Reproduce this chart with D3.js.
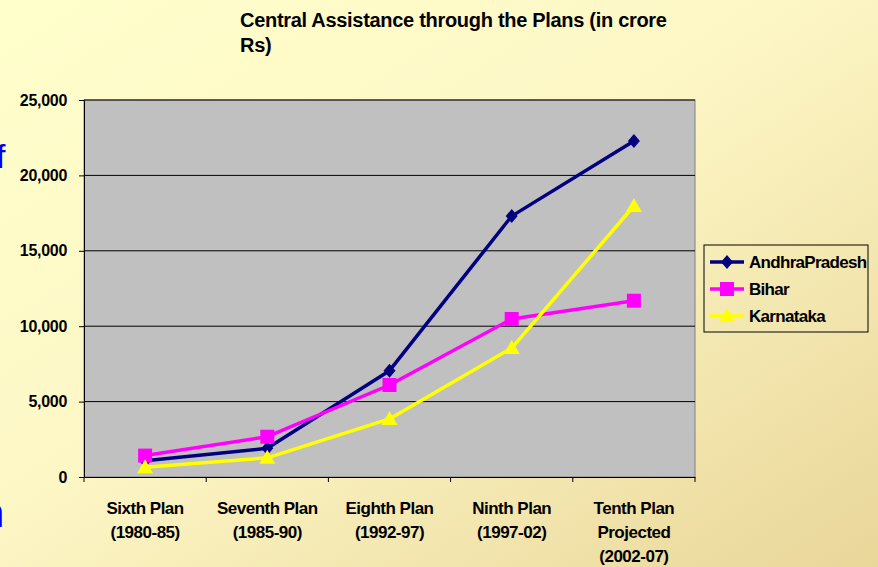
<!DOCTYPE html>
<html>
<head>
<meta charset="utf-8">
<script src="https://cdn.jsdelivr.net/npm/d3@7"></script>
<style>
  body { margin: 0; overflow: hidden; }
  text { font-family: "Liberation Sans", Arial, sans-serif; font-weight: bold; fill: #000; }
</style>
</head>
<body>
<svg id="chart" width="878" height="567"></svg>
<script>
// plan periods on the x axis (multi-line labels)
const plans = [
  ['Sixth Plan', '(1980-85)'],
  ['Seventh Plan', '(1985-90)'],
  ['Eighth Plan', '(1992-97)'],
  ['Ninth Plan', '(1997-02)'],
  ['Tenth Plan', 'Projected', '(2002-07)']
];
const stateNames = ['AndhraPradesh', 'Bihar', 'Karnataka'];
const andhraValues = [1080, 1900, 7050, 17300, 22280];
const biharValues = [1420, 2670, 6100, 10480, 11690];
const karnatakaValues = [650, 1270, 3850, 8550, 17970];
const yTicks = [0, 5000, 10000, 15000, 20000, 25000];

const svg = d3.select('#chart');
const width = +svg.attr('width');
const height = +svg.attr('height');

// page background, light yellow fading to beige
const defs = svg.append('defs');
const grad = defs.append('linearGradient')
  .attr('id', 'bg')
  .attr('x1', '0').attr('y1', '0').attr('x2', '1').attr('y2', '1');
grad.append('stop').attr('offset', '0%').attr('stop-color', '#ffffcc');
grad.append('stop').attr('offset', '45%').attr('stop-color', '#fdf7c6');
grad.append('stop').attr('offset', '100%').attr('stop-color', '#e9d699');
svg.append('rect').attr('width', width).attr('height', height).attr('fill', 'url(#bg)');

// leftovers of the slide text behind the chart
svg.append('text').attr('x', -4).attr('y', 168)
  .style('font-weight', 'normal')
  .style('font-size', '34px').style('fill', '#0000ee').text('f');
svg.append('text').attr('x', -18).attr('y', 527)
  .style('font-weight', 'normal')
  .style('font-size', '40px').style('fill', '#0000ee').text('n');

const margin = ({top: 100, right: 183, bottom: 90, left: 84});
const innerWidth = width - margin.left - margin.right;
const innerHeight = height - margin.top - margin.bottom;

const series = [
  {name: stateNames[0], values: andhraValues, color: '#000080', marker: 'diamond'},
  {name: stateNames[1], values: biharValues, color: '#ff00ff', marker: 'square'},
  {name: stateNames[2], values: karnatakaValues, color: '#ffff00', marker: 'triangle'}
];

const x = d3.scaleBand()
  .domain(d3.range(plans.length))
  .range([0, innerWidth]);

const y = d3.scaleLinear()
  .domain([0, 25000])
  .range([innerHeight, 0]);

const g = svg.append('g')
  .attr('transform', `translate(${margin.left},${margin.top})`);

g.append('rect')
  .attr('width', innerWidth)
  .attr('height', innerHeight)
  .attr('fill', '#c0c0c0')
  .attr('stroke', '#808080');

// gridlines
g.selectAll('.grid').data(yTicks.filter(d => d > 0))
  .enter().append('line')
  .attr('x1', 0).attr('x2', innerWidth)
  .attr('y1', d => y(d)).attr('y2', d => y(d))
  .attr('stroke', '#000').attr('stroke-width', 1);

const yAxis = d3.axisLeft(y)
  .tickValues(yTicks)
  .tickSize(5)
  .tickPadding(12)
  .tickFormat(d3.format(','));

const yAxisG = g.append('g').call(yAxis);
yAxisG.select('.domain').attr('stroke', '#000');
yAxisG.selectAll('text').style('font-size', '16px').style('letter-spacing', '-0.3px');

const xAxisG = g.append('g')
  .attr('transform', `translate(0,${innerHeight})`)
  .call(d3.axisBottom(x).tickSize(0).tickFormat(''));
xAxisG.select('.domain').attr('stroke', '#000');

// ticks between categories
xAxisG.selectAll('.sep').data(d3.range(plans.length + 1))
  .enter().append('line')
  .attr('x1', d => d * x.bandwidth()).attr('x2', d => d * x.bandwidth())
  .attr('y1', 0).attr('y2', 5)
  .attr('stroke', '#000');

const xLabels = xAxisG.selectAll('.xlabel').data(plans)
  .enter().append('text')
  .attr('text-anchor', 'middle')
  .attr('transform', (d, i) => `translate(${x(i) + x.bandwidth() / 2},0)`)
  .style('font-size', '17px')
  .style('letter-spacing', '-0.5px');

xLabels.selectAll('tspan').data(d => d)
  .enter().append('tspan')
  .attr('x', 0)
  .attr('y', (d, i) => 37 + i * 24)
  .text(d => d);

const line = d3.line()
  .x((d, i) => x(i) + x.bandwidth() / 2)
  .y(d => y(d));

const markerPath = (type) => {
  if (type === 'diamond') return 'M0,-7L6,0L0,7L-6,0Z';
  if (type === 'square') return 'M-7,-7H7V7H-7Z';
  return 'M0,-8L8,6H-8Z';
};

series.forEach(s => {
  g.append('path')
    .datum(s.values)
    .attr('fill', 'none')
    .attr('stroke', s.color)
    .attr('stroke-width', 3.5)
    .attr('stroke-linejoin', 'round')
    .attr('d', line);

  g.selectAll(null).data(s.values)
    .enter().append('path')
    .attr('transform', (d, i) => `translate(${x(i) + x.bandwidth() / 2},${y(d)})`)
    .attr('d', markerPath(s.marker))
    .attr('fill', s.color);
});

// title
svg.append('text')
  .attr('x', 240)
  .style('font-size', '20px')
  .style('letter-spacing', '-0.3px')
  .selectAll('tspan')
  .data(['Central Assistance through the Plans (in crore', 'Rs)'])
  .enter().append('tspan')
  .attr('x', 240)
  .attr('y', (d, i) => 27 + i * 25)
  .text(d => d);

// legend
const legend = svg.append('g').attr('transform', 'translate(704,245)');
legend.append('rect')
  .attr('width', 164).attr('height', 87)
  .attr('fill', 'none').attr('stroke', '#000');

const item = legend.selectAll('.item').data(series)
  .enter().append('g')
  .attr('transform', (d, i) => `translate(0,${17 + i * 27})`);

item.append('line')
  .attr('x1', 6).attr('x2', 40)
  .attr('stroke', d => d.color)
  .attr('stroke-width', 3.5);

item.append('path')
  .attr('transform', 'translate(23,0)')
  .attr('d', d => markerPath(d.marker))
  .attr('fill', d => d.color);

item.append('text')
  .attr('x', 45)
  .attr('dy', '0.35em')
  .style('font-size', '17px')
  .style('letter-spacing', '-0.7px')
  .text(d => d.name);
</script>
</body>
</html>
